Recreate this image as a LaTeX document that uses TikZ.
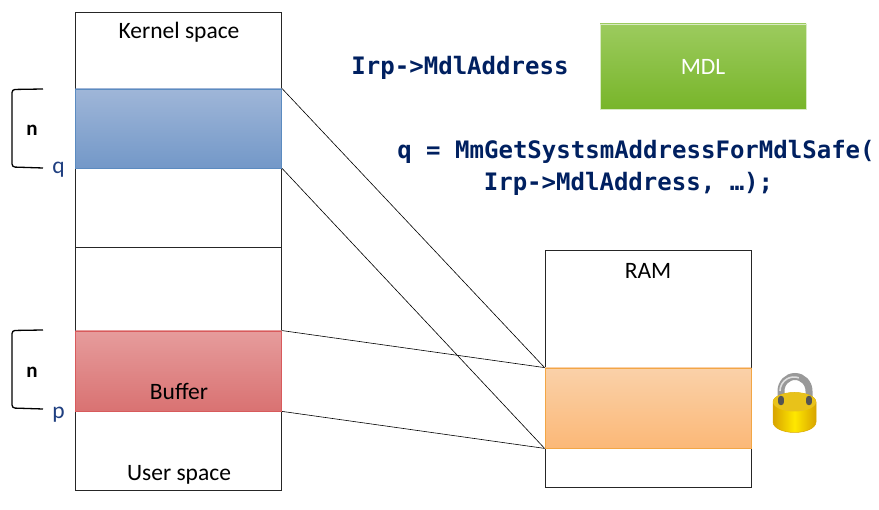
\documentclass[tikz,border=0pt]{standalone}
\usepackage{fontspec}
\setmainfont{Carlito}
\newfontfamily\codefont[Scale=0.9]{DejaVu Sans Mono}
\usetikzlibrary{positioning}
\definecolor{navy}{HTML}{002060}
\definecolor{labelblue}{HTML}{1F3F80}
\definecolor{bluetop}{HTML}{9FB6D8}
\definecolor{bluebot}{HTML}{7398C8}
\definecolor{blueline}{HTML}{5B8BC0}
\definecolor{redtop}{HTML}{E69C9C}
\definecolor{redbot}{HTML}{D97272}
\definecolor{redline}{HTML}{D85A5C}
\definecolor{orangetop}{HTML}{FAD1A9}
\definecolor{orangebot}{HTML}{FBB877}
\definecolor{orangeline}{HTML}{F2A645}
\definecolor{greentop}{HTML}{9CCB5E}
\definecolor{greenbot}{HTML}{78B52A}
\definecolor{greenline}{HTML}{D8EAC2}
\definecolor{lockgold}{HTML}{E8C21A}
\definecolor{lockedge}{HTML}{D9A800}
\definecolor{lockbright}{HTML}{FFE800}
\definecolor{lockdark}{HTML}{D8A400}
\tikzset{
    membox/.style={draw=black!85, line width=1pt, fill=white, inner sep=0pt, minimum width=206pt},
    membuf/.style={line width=.8pt, inner sep=0pt, minimum width=206pt, minimum height=80pt},
    codetext/.style={text=navy, font=\codefont\bfseries\fontsize{26.7}{32}\selectfont, inner sep=0pt},
    plaintext/.style={font=\fontsize{23.5}{28}\selectfont, inner sep=0pt},
    sizelabel/.style={font=\bfseries\fontsize{21}{25}\selectfont, inner sep=0pt},
    ptrlabel/.style={text=labelblue, font=\fontsize{23.5}{28}\selectfont, inner sep=0pt},
    bracket/.style={draw=black, line width=1.3pt, rounded corners=3pt},
    mapline/.style={draw=black, line width=.6pt}
}
\begin{document}
\begin{tikzpicture}[x=1pt,y=-1pt]
    \useasboundingbox (0,0) rectangle (879,510);
    % address spaces
    \node[membox, minimum height=235pt] (kernel) at (178.7,130) {};
    \node[membox, minimum height=243pt] (user) at (178.7,369) {};
    \node[membox, minimum height=237pt] (ram) at (648,369) {};
    % buffers
    \node[membuf, draw=blueline, top color=bluetop, bottom color=bluebot, minimum height=79pt] (qbuf) at (178.7,128.5) {};
    \node[membuf, draw=redline, top color=redtop, bottom color=redbot] (pbuf) at (178.7,371) {};
    \node[membuf, draw=orangeline, top color=orangetop, bottom color=orangebot] (lockbuf) at (648,408) {};
    \node[membuf, draw=greenline, text=white, top color=greentop, bottom color=greenbot, minimum height=85pt, font=\fontsize{23.5}{28}\selectfont] (mdl) at (703,66.5) {MDL};
    % mapping
    \draw[mapline] (qbuf.north east) -- (lockbuf.north west);
    \draw[mapline] (qbuf.south east) -- (lockbuf.south west);
    \draw[mapline] (pbuf.north east) -- (lockbuf.north west);
    \draw[mapline] (pbuf.south east) -- (lockbuf.south west);
    % labels
    \node[plaintext] (kname) at (179,32) {Kernel space};
    \node[plaintext] (uname) at (179,474.5) {User space};
    \node[plaintext] (bname) at (179,391.5) {Buffer};
    \node[plaintext] (rname) at (648,270.5) {RAM};
    \node[codetext] (irp) at (460,68) {Irp->MdlAddress};
    \node[codetext] (call) at (636,151.5) {q = MmGetSystsmAddressForMdlSafe(};
    \node[codetext] (callarg) at (628.5,183.5) {Irp->MdlAddress, …);};
    % size brackets
    \coordinate (q1) at (43,89);
    \coordinate (q2) at (12,89.5);
    \coordinate (q3) at (12,167);
    \coordinate (q4) at (43,168);
    \coordinate (p1) at (43,330);
    \coordinate (p2) at (12,330.5);
    \coordinate (p3) at (12,408);
    \coordinate (p4) at (43,409);
    \draw[bracket] (q1) -- (q2) -- (q3) -- (q4);
    \draw[bracket] (p1) -- (p2) -- (p3) -- (p4);
    \node[sizelabel] (nq) at (32,130) {n};
    \node[sizelabel] (np) at (32,372) {n};
    \node[ptrlabel] (q) at (58.5,170) {q};
    \node[ptrlabel] (p) at (58.5,415) {p};
    % padlock
    \draw[line width=7pt, draw=gray!80, line cap=round] (781,400) -- (781,391) arc (-180:0:14 and 14.5) -- (809,400);
    \draw[line width=1.6pt, draw=gray!25] (780,391) arc (-180:-70:14 and 14);
    \path[draw=lockedge, line width=.5pt, left color=lockdark, right color=lockdark, middle color=lockbright]
        (773,402) arc (-180:0:21.5 and 9.5) -- (816,422) arc (0:180:21.5 and 10.5) -- cycle;
    \path[fill=lockgold] (773,402) arc (-180:0:21.5 and 9.5) arc (0:180:21.5 and 9.5);
    \draw[line width=6.5pt, draw=gray!65!black, line cap=round] (781,402) -- (781,399);
    \draw[line width=6.5pt, draw=gray!65!black, line cap=round] (809,402) -- (809,399);
\end{tikzpicture}
\end{document}
